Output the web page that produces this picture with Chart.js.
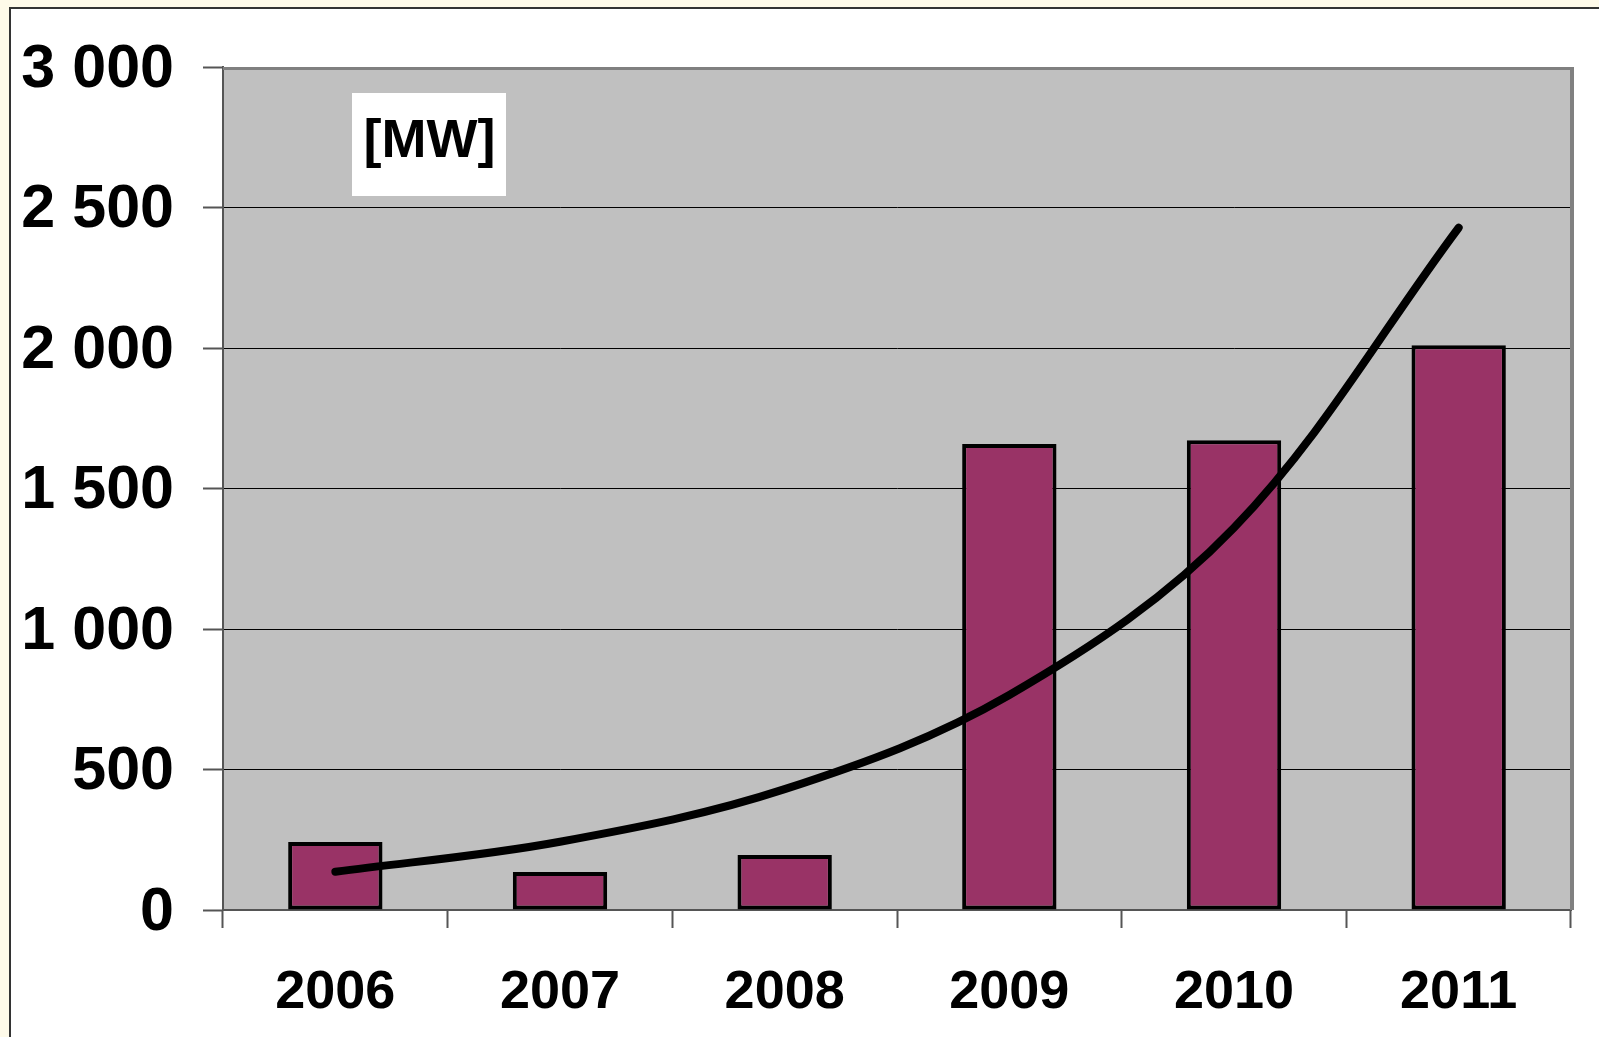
<!DOCTYPE html>
<html>
<head>
<meta charset="utf-8">
<script src="https://cdn.jsdelivr.net/npm/chart.js@4/dist/chart.umd.min.js"></script>
<style>
  html, body { margin: 0; padding: 0; width: 1599px; height: 1037px; overflow: hidden; background: #fefae9; }
  #frame { position: absolute; left: 9px; top: 7px; width: 1600px; height: 1040px; background: #ffffff;
           border-left: 2px solid #333333; border-top: 2px solid #333333; }
  #c { position: absolute; left: 0; top: 0; }
</style>
</head>
<body>
<div id="frame"></div>
<canvas id="c" width="1599" height="1037"></canvas>
<script>
const categories = ['2006', '2007', '2008', '2009', '2010', '2011'];
const barValues = [242, 135, 196, 1658, 1672, 2010];
const trendValues = [136, 243, 430, 765, 1360, 2428];
const yTickLabels = { 0: '0', 500: '500', 1000: '1 000', 1500: '1 500', 2000: '2 000', 2500: '2 500', 3000: '3 000' };
const unitLabel = '[MW]';

const FONT = '"Liberation Sans", Arial, sans-serif';

const plotDecor = {
  id: 'plotDecor',
  beforeDraw(chart) {
    const a = chart.chartArea, ctx = chart.ctx;
    ctx.save();
    ctx.fillStyle = '#c0c0c0';
    ctx.fillRect(a.left, a.top, a.right - a.left, a.bottom - a.top);
    ctx.restore();
  },
  afterDraw(chart) {
    const a = chart.chartArea, ctx = chart.ctx;
    ctx.save();
    ctx.strokeStyle = '#808080';
    ctx.lineWidth = 3;
    ctx.beginPath();
    ctx.moveTo(a.left, a.top + 1.5);
    ctx.lineTo(a.right + 1.5, a.top + 1.5);
    ctx.stroke();
    ctx.lineWidth = 4;
    ctx.beginPath();
    ctx.moveTo(a.right + 1, a.top);
    ctx.lineTo(a.right + 1, a.bottom);
    ctx.stroke();
    // unit label box
    ctx.fillStyle = '#ffffff';
    ctx.fillRect(352, 93, 154, 103);
    ctx.fillStyle = '#000000';
    ctx.font = 'bold 54px ' + FONT;
    ctx.textAlign = 'center';
    ctx.textBaseline = 'alphabetic';
    ctx.fillText(unitLabel, 429.5, 157);
    ctx.restore();
  }
};

new Chart(document.getElementById('c'), {
  data: {
    labels: categories,
    datasets: [
      {
        type: 'line',
        data: trendValues,
        borderColor: '#000000',
        borderWidth: 8,
        borderCapStyle: 'round',
        borderJoinStyle: 'round',
        pointRadius: 0,
        tension: 0.35,
        fill: false,
        order: 0
      },
      {
        type: 'bar',
        data: barValues,
        backgroundColor: '#993366',
        borderColor: '#000000',
        borderWidth: 4,
        borderSkipped: false,
        barPercentage: 0.42,
        categoryPercentage: 1.0,
        order: 1
      }
    ]
  },
  options: {
    responsive: false,
    animation: false,
    devicePixelRatio: 1,
    layout: { padding: { top: 67, right: 28, left: 0, bottom: 0 } },
    plugins: { legend: { display: false }, tooltip: { enabled: false } },
    scales: {
      x: {
        offset: true,
        grid: { offset: true, drawOnChartArea: false, tickLength: 18, tickColor: '#555555', tickWidth: 2 },
        border: { display: true, color: '#555555', width: 2 },
        ticks: { color: '#000000', padding: 33, font: { family: FONT, size: 54, weight: 'bold' } },
        afterFit(s) { s.height = 127; }
      },
      y: {
        min: 0, max: 3000,
        grid: { color: '#000000', lineWidth: 1, tickLength: 20, tickColor: '#555555', tickWidth: 2 },
        border: { display: true, color: '#555555', width: 2 },
        ticks: {
          stepSize: 500,
          color: '#000000',
          padding: 29,
          labelOffset: 3,
          font: { family: FONT, size: 61, weight: 'bold' },
          callback: (v) => yTickLabels[v] !== undefined ? yTickLabels[v] : ''
        },
        afterFit(s) { s.width = 223; }
      }
    }
  },
  plugins: [plotDecor]
});
</script>
</body>
</html>
